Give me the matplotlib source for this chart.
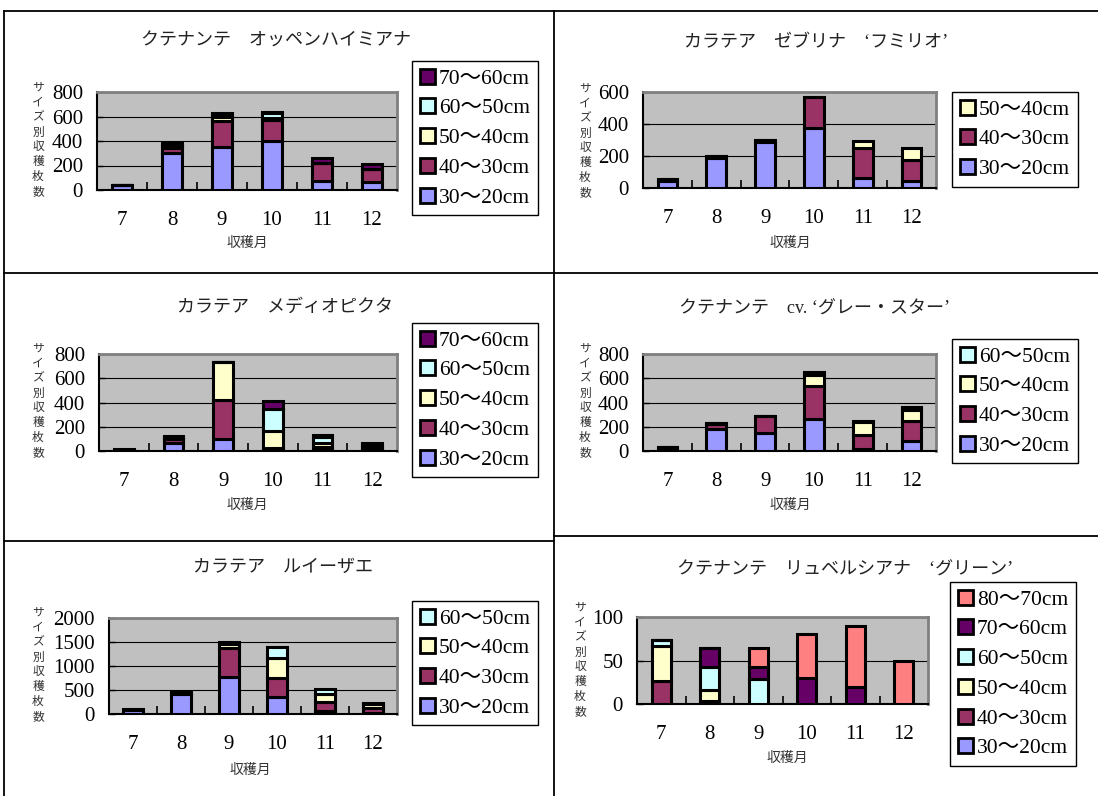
import numpy as np
import matplotlib
matplotlib.use('Agg')
import matplotlib.pyplot as plt
from matplotlib.lines import Line2D
from matplotlib.patches import Patch

plt.rcParams['font.family'] = ['Liberation Serif', 'Noto Sans CJK JP']

# %% data
months = ['7', '8', '9', '10', '11', '12']

lab_30_20 = '30～20cm'
lab_40_30 = '40～30cm'
lab_50_40 = '50～40cm'
lab_60_50 = '60～50cm'
lab_70_60 = '70～60cm'
lab_80_70 = '80～70cm'

# クテナンテ オッペンハイミアナ
p1_30_20 = [40, 300, 350, 400, 70, 65]
p1_40_30 = [0, 45, 210, 175, 150, 110]
p1_50_40 = [0, 15, 40, 15, 0, 0]
p1_60_50 = [0, 10, 10, 35, 0, 0]
p1_70_60 = [0, 10, 20, 15, 45, 35]

# カラテア ゼブリナ 'フミリオ'
p2_30_20 = [45, 190, 285, 378, 65, 45]
p2_40_30 = [10, 12, 18, 192, 182, 133]
p2_50_40 = [0, 0, 0, 0, 46, 70]

# カラテア メディオピクタ
p3_30_20 = [5, 70, 100, 10, 10, 10]
p3_40_30 = [5, 25, 320, 15, 25, 10]
p3_50_40 = [0, 5, 310, 140, 30, 20]
p3_60_50 = [0, 5, 0, 185, 50, 5]
p3_70_60 = [5, 20, 0, 65, 20, 25]

# クテナンテ cv.'グレー・スター'
p4_30_20 = [20, 180, 150, 265, 20, 85]
p4_40_30 = [10, 40, 135, 270, 115, 160]
p4_50_40 = [5, 10, 0, 90, 105, 95]
p4_60_50 = [0, 0, 5, 30, 10, 20]

# カラテア ルイーザエ
p5_30_20 = [90, 410, 780, 360, 70, 30]
p5_40_30 = [0, 40, 600, 380, 190, 90]
p5_50_40 = [0, 5, 80, 420, 150, 90]
p5_60_50 = [5, 5, 30, 240, 120, 25]

# クテナンテ リュベルシアナ 'グリーン'
p6_30_20 = [0, 0, 0, 0, 0, 0]
p6_40_30 = [27, 3, 0, 0, 0, 0]
p6_50_40 = [40, 13, 0, 0, 0, 0]
p6_60_50 = [7, 27, 29, 0, 0, 0]
p6_70_60 = [0, 21, 13, 30, 20, 0]
p6_80_70 = [0, 0, 22, 50, 70, 50]

c_30_20 = '#9999FF'
c_40_30 = '#993366'
c_50_40 = '#FFFFCC'
c_60_50 = '#CCFFFF'
c_70_60 = '#660066'
c_80_70 = '#FF8080'

# %% layout helpers
W, H = 1098, 796
fig = plt.figure(figsize=(W / 100, H / 100), dpi=100)


def px_rect(x0, y0, x1, y1):
    return [x0 / W, 1 - y1 / H, (x1 - x0) / W, (y1 - y0) / H]


def fline(x0, y0, x1, y1):
    fig.add_artist(Line2D([x0 / W, x1 / W], [1 - y0 / H, 1 - y1 / H],
                          color='black', lw=1.3))


def panel(rect, series, labels, colors, ymax, ystep, leg_xy,
          title, title_xy, ylab_xy, xlab_xy):
    ax = fig.add_axes(px_rect(*rect))
    ax.set_facecolor('#C0C0C0')
    x = np.arange(len(months))
    bottom = np.zeros(len(months))
    for vals, col in zip(series, colors):
        ax.bar(x, vals, width=0.4, bottom=bottom, color=col,
               edgecolor='black', linewidth=2.2, zorder=3)
        bottom += np.array(vals)
    ax.set_xlim(-0.5, len(months) - 0.5)
    ax.set_ylim(0, ymax)
    ax.set_yticks(np.arange(0, ymax + 1, ystep))
    ax.set_xticks(x, months)
    ax.set_xticks(x[:-1] + 0.5, minor=True)
    ax.tick_params(axis='x', which='major', length=0, pad=15, labelsize=15)
    ax.tick_params(axis='x', which='minor', direction='in', length=6, width=1.2)
    ax.tick_params(axis='y', direction='in', length=4, width=1, pad=10, labelsize=15)
    ax.yaxis.grid(True, color='black', lw=0.8)
    ax.set_axisbelow(True)
    for s in ['left', 'bottom']:
        ax.spines[s].set_color('black')
        ax.spines[s].set_linewidth(1.5)
    for s in ['top', 'right']:
        ax.spines[s].set_color('#808080')
        ax.spines[s].set_linewidth(2)

    handles = [Patch(facecolor=c, edgecolor='black', linewidth=2) for c in colors][::-1]
    fig.legend(handles, labels[::-1], loc='upper left',
               bbox_to_anchor=(leg_xy[0] / W, 1 - leg_xy[1] / H),
               bbox_transform=fig.transFigure, frameon=True, fancybox=False,
               edgecolor='black', framealpha=1, borderaxespad=0,
               borderpad=0.35, handlelength=0.7, handleheight=0.7,
               handletextpad=0.2, labelspacing=0.45, fontsize=15.5)

    fig.text(title_xy[0] / W, 1 - title_xy[1] / H, title, ha='center',
             va='center', fontsize=13, color='#222222')
    fig.text(ylab_xy[0] / W, 1 - ylab_xy[1] / H, '\n'.join('サイズ別収穫枚数'),
             ha='center', va='center', fontsize=8.5, linespacing=1.32,
             color='#333333')
    fig.text(xlab_xy[0] / W, 1 - xlab_xy[1] / H, '収穫月', ha='center',
             va='center', fontsize=10, color='#333333')
    return ax


# %% frame lines
fline(4, 11, 1098, 11)
fline(4, 11, 4, 796)
fline(554, 11, 554, 796)
fline(4, 273, 1098, 273)
fline(4, 541, 554, 541)
fline(554, 536, 1098, 536)

# %% panels
panel((97, 92, 397, 190),
      [p1_30_20, p1_40_30, p1_50_40, p1_60_50, p1_70_60],
      [lab_30_20, lab_40_30, lab_50_40, lab_60_50, lab_70_60],
      [c_30_20, c_40_30, c_50_40, c_60_50, c_70_60],
      800, 200, (412, 61),
      'クテナンテ　オッペンハイミアナ', (276, 41), (38, 140), (247, 243))

panel((643, 92, 936, 188),
      [p2_30_20, p2_40_30, p2_50_40],
      [lab_30_20, lab_40_30, lab_50_40],
      [c_30_20, c_40_30, c_50_40],
      600, 200, (952, 92),
      'カラテア　ゼブリナ　‘フミリオ’', (816, 43), (585, 141), (790, 243))

panel((99, 354, 397, 451),
      [p3_30_20, p3_40_30, p3_50_40, p3_60_50, p3_70_60],
      [lab_30_20, lab_40_30, lab_50_40, lab_60_50, lab_70_60],
      [c_30_20, c_40_30, c_50_40, c_60_50, c_70_60],
      800, 200, (412, 323),
      'カラテア　メディオピクタ', (285, 307), (38, 401), (247, 505))

panel((643, 354, 936, 451),
      [p4_30_20, p4_40_30, p4_50_40, p4_60_50],
      [lab_30_20, lab_40_30, lab_50_40, lab_60_50],
      [c_30_20, c_40_30, c_50_40, c_60_50],
      800, 200, (952, 339),
      'クテナンテ　cv. ‘グレー・スター’', (815, 309), (585, 401), (790, 505))

panel((109, 618, 397, 714),
      [p5_30_20, p5_40_30, p5_50_40, p5_60_50],
      [lab_30_20, lab_40_30, lab_50_40, lab_60_50],
      [c_30_20, c_40_30, c_50_40, c_60_50],
      2000, 500, (412, 601),
      'カラテア　ルイーザエ', (283, 567), (38, 665), (250, 770))

panel((637, 617, 928, 704),
      [p6_30_20, p6_40_30, p6_50_40, p6_60_50, p6_70_60, p6_80_70],
      [lab_30_20, lab_40_30, lab_50_40, lab_60_50, lab_70_60, lab_80_70],
      [c_30_20, c_40_30, c_50_40, c_60_50, c_70_60, c_80_70],
      100, 50, (950, 582),
      'クテナンテ　リュベルシアナ　‘グリーン’', (845, 570), (580, 660), (787, 758))

fig.savefig('out.png', dpi=100)
